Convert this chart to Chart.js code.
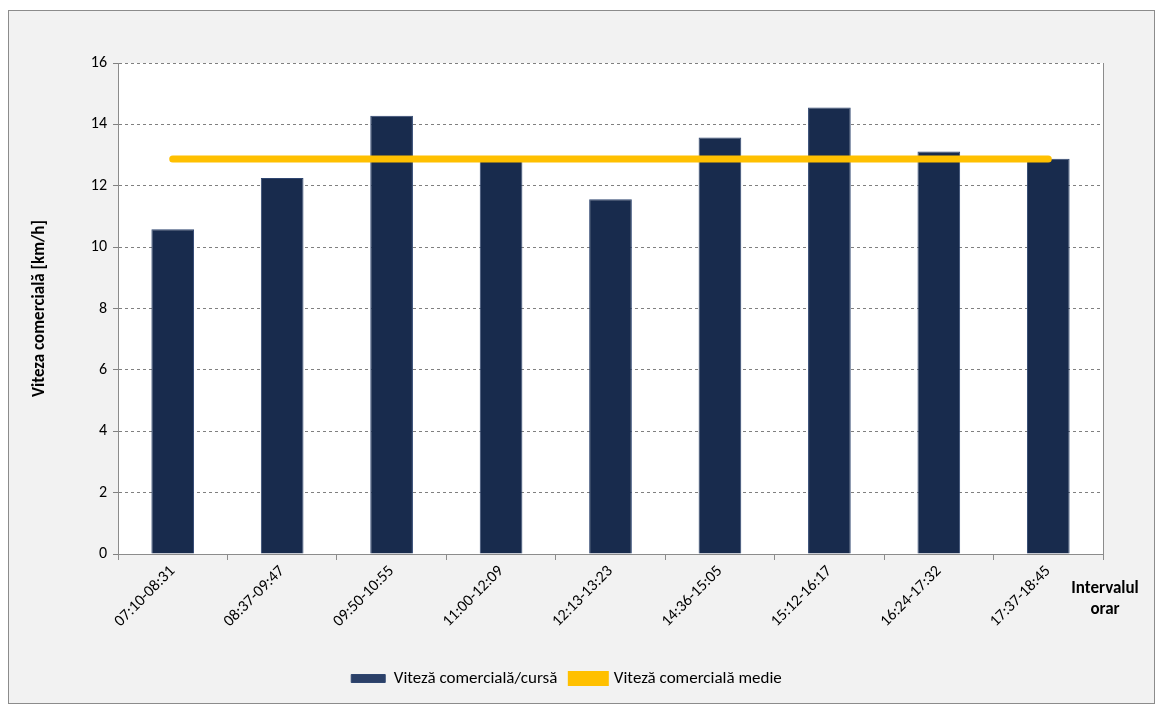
<!DOCTYPE html>
<html>
<head>
<meta charset="utf-8">
<script src="https://cdn.jsdelivr.net/npm/chart.js@4"></script>
<style>
  html, body { margin: 0; padding: 0; background: #ffffff; }
  #frame {
    position: absolute; left: 8px; top: 10px;
    width: 1145px; height: 692px;
    background: #f2f2f2; border: 1px solid #8c8c8c;
  }
  #wrap { position: absolute; left: 0; top: 0; width: 1160px; height: 707px; }
</style>
</head>
<body>
<div id="frame"></div>
<div id="wrap"><canvas id="chart" width="1160" height="707"></canvas></div>
<script>
const FONT = "Carlito, 'Liberation Sans', Arial, sans-serif";

// Data
const intervals = ['07:10-08:31', '08:37-09:47', '09:50-10:55', '11:00-12:09', '12:13-13:23',
                   '14:36-15:05', '15:12-16:17', '16:24-17:32', '17:37-18:45'];
const speedPerTrip = [10.58, 12.25, 14.28, 12.85, 11.56, 13.57, 14.55, 13.12, 12.88];
const speedMean = [12.87, 12.87, 12.87, 12.87, 12.87, 12.87, 12.87, 12.87, 12.87];
const yTicks = [0, 2, 4, 6, 8, 10, 12, 14, 16];

// bars get a soft bevel: lighter at the edges, dark navy inside
function barFill(ctx) {
  const el = ctx.element;
  if (!el || el.width === undefined || !isFinite(el.x)) return '#182b4d';
  const half = el.width / 2;
  const g = ctx.chart.ctx.createLinearGradient(el.x - half, 0, el.x + half, 0);
  g.addColorStop(0, '#2b4068');
  g.addColorStop(0.12, '#182b4d');
  g.addColorStop(0.88, '#182b4d');
  g.addColorStop(1, '#2b4068');
  return g;
}

// white plot background, right border, and the x axis title
const plotDecor = {
  id: 'plotDecor',
  beforeDraw(chart) {
    const { ctx, chartArea: a } = chart;
    ctx.save();
    ctx.fillStyle = '#ffffff';
    ctx.fillRect(a.left, a.top, a.right - a.left, a.bottom - a.top);
    ctx.restore();
  },
  afterDraw(chart) {
    const { ctx, chartArea: a } = chart;
    ctx.save();
    ctx.strokeStyle = '#8c8c8c';
    ctx.lineWidth = 1;
    ctx.beginPath();
    ctx.moveTo(Math.round(a.right) + 0.5, a.top);
    ctx.lineTo(Math.round(a.right) + 0.5, a.bottom);
    ctx.stroke();
    ctx.fillStyle = '#000';
    ctx.font = 'bold 17px ' + FONT;
    ctx.textAlign = 'center';
    ctx.textBaseline = 'middle';
    ctx.fillText('Intervalul', 1105, 589);
    ctx.fillText('orar', 1105, 610);
    ctx.restore();
  }
};

new Chart(document.getElementById('chart'), {
  data: {
    labels: intervals,
    datasets: [
      {
        type: 'bar',
        label: 'Viteză comercială/cursă',
        data: speedPerTrip,
        backgroundColor: barFill,
        borderColor: '#2f4670',
        borderWidth: 1,
        barPercentage: 0.39,
        categoryPercentage: 1,
        order: 2
      },
      {
        type: 'line',
        label: 'Viteză comercială medie',
        data: speedMean,
        borderColor: '#ffc000',
        backgroundColor: '#ffc000',
        borderWidth: 7,
        borderCapStyle: 'round',
        pointRadius: 0,
        fill: false,
        order: 1
      }
    ]
  },
  options: {
    responsive: false,
    animation: false,
    layout: { padding: { left: 30, right: 57, top: 63, bottom: 10 } },
    scales: {
      x: {
        offset: true,
        grid: { display: true, drawOnChartArea: false, offset: true, tickLength: 6, color: '#8c8c8c' },
        border: { color: '#8c8c8c' },
        ticks: {
          minRotation: 45, maxRotation: 45, padding: 2,
          color: '#000', font: { family: FONT, size: 16 }
        },
        afterFit(scale) { scale.height = 102; }
      },
      y: {
        min: 0, max: 16,
        afterBuildTicks(scale) { scale.ticks = yTicks.map(v => ({ value: v })); },
        grid: { color: '#808080', tickLength: 5, tickBorderDash: [] },
        border: { color: '#8c8c8c', dash: [3, 3] },
        ticks: { color: '#000', padding: 6, font: { family: FONT, size: 16 } },
        title: {
          display: true, text: 'Viteza comercială [km/h]', color: '#000',
          font: { family: FONT, size: 17, weight: 'bold' }, padding: 0
        },
        afterFit(scale) { scale.width = 88; }
      }
    },
    plugins: {
      legend: {
        position: 'bottom',
        labels: {
          color: '#000', boxWidth: 34, boxHeight: 8, padding: 14,
          font: { family: FONT, size: 17 },
          sort: (a, b) => a.datasetIndex - b.datasetIndex
        }
      },
      tooltip: { enabled: false }
    }
  },
  plugins: [plotDecor]
});
</script>
</body>
</html>
